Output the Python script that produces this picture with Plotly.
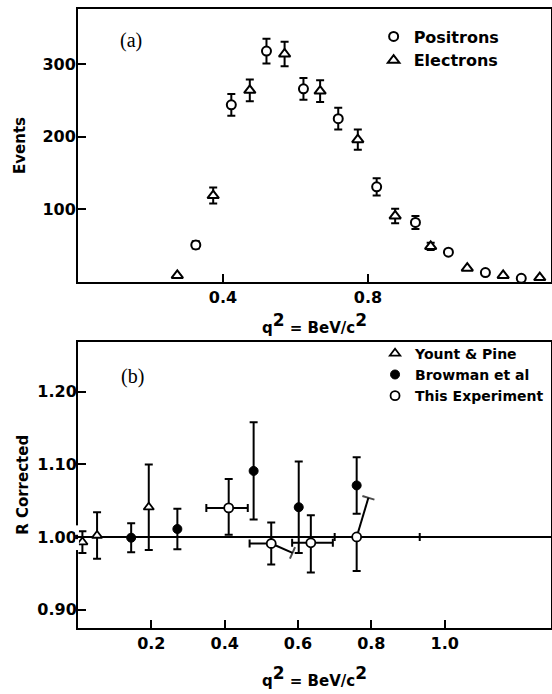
import plotly.graph_objects as go

# ---------------- Panel (a): event counts vs q^2 ----------------
pos_q2 = [0.325, 0.423, 0.520, 0.622, 0.718, 0.824, 0.931, 1.022, 1.124, 1.223]
pos_events = [51, 244, 318, 266, 225, 131, 82, 41, 13, 5]
pos_err = [5, 15, 17, 15, 15, 12, 9, 0, 0, 0]

ele_q2 = [0.274, 0.373, 0.474, 0.570, 0.668, 0.772, 0.875, 0.973, 1.074, 1.173, 1.274]
ele_events = [9, 119, 264, 314, 263, 196, 91, 49, 19, 9, 6]
ele_err = [0, 11, 15, 17, 15, 14, 10, 5, 0, 0, 0]

a_xticks = [0.4, 0.8]
a_xticklabels = ["0.4", "0.8"]
a_yticks = [100, 200, 300]
a_yticklabels = ["100", "200", "300"]

# ---------------- Panel (b): R corrected vs q^2 ----------------
yp_q2 = [0.012, 0.052, 0.193]
yp_r = [0.993, 1.002, 1.041]
yp_err = [0.015, 0.032, 0.059]

br_q2 = [0.145, 0.271, 0.479, 0.602, 0.760]
br_r = [0.999, 1.011, 1.091, 1.041, 1.071]
br_err = [0.020, 0.028, 0.067, 0.063, 0.039]

te_q2 = [0.411, 0.527, 0.635, 0.760]
te_r = [1.040, 0.991, 0.992, 1.000]
te_err_up = [0.040, 0.029, 0.038, 0.0]
te_err_dn = [0.037, 0.029, 0.041, 0.047]
te_xerr_lo = [0.061, 0.059, 0.051, 0.060]
te_xerr_hi = [0.052, 0.0, 0.060, 0.172]

# bent (slanted) whiskers drawn in the original figure
bend_from_q2 = [0.527, 0.760]
bend_from_r = [0.991, 1.000]
bend_to_q2 = [0.585, 0.792]
bend_to_r = [0.978, 1.054]
bend_cap_angle = [24, 17]
bend_cap_symbol = ["line-ns", "line-ew"]

b_xticks = [0.2, 0.4, 0.6, 0.8, 1.0]
b_xticklabels = ["0.2", "0.4", "0.6", "0.8", "1.0"]
b_yticks = [0.90, 1.00, 1.10, 1.20]
b_yticklabels = ["0.90", "1.00", "1.10", "1.20"]
reference_r = 1.0

FONT = "DejaVu Sans"
BLACK = "black"

fig = go.Figure()

eb = dict(thickness=2, width=4, color=BLACK)

# Panel (a) traces
fig.add_trace(go.Scatter(
    x=pos_q2, y=pos_events, mode="markers", name="Positrons",
    error_y=dict(type="data", array=pos_err, visible=True, **eb),
    marker=dict(symbol="circle", size=9, color="white", line=dict(color=BLACK, width=2)),
    xaxis="x", yaxis="y", legend="legend",
))
fig.add_trace(go.Scatter(
    x=ele_q2, y=ele_events, mode="markers", name="Electrons",
    error_y=dict(type="data", array=ele_err, visible=True, **eb),
    marker=dict(symbol="triangle-up", size=10, color="white", line=dict(color=BLACK, width=2)),
    xaxis="x", yaxis="y", legend="legend",
))

# Panel (b) bent whiskers
for i in range(len(bend_from_q2)):
    fig.add_trace(go.Scatter(
        x=[bend_from_q2[i], bend_to_q2[i]], y=[bend_from_r[i], bend_to_r[i]],
        mode="lines+markers", line=dict(color=BLACK, width=2),
        marker=dict(symbol=["circle", bend_cap_symbol[i] + "-open"], size=[0, 9],
                    angle=bend_cap_angle[i], color=BLACK, line=dict(color=BLACK, width=2)),
        showlegend=False, hoverinfo="skip", xaxis="x2", yaxis="y2",
    ))

fig.add_trace(go.Scatter(
    x=yp_q2, y=yp_r, mode="markers", name="Yount &amp; Pine",
    error_y=dict(type="data", array=yp_err, visible=True, **eb),
    marker=dict(symbol="triangle-up", size=9, color="white", line=dict(color=BLACK, width=1.8)),
    xaxis="x2", yaxis="y2", legend="legend2",
))
fig.add_trace(go.Scatter(
    x=br_q2, y=br_r, mode="markers", name="Browman et al",
    error_y=dict(type="data", array=br_err, visible=True, **eb),
    marker=dict(symbol="circle", size=9, color=BLACK, line=dict(color=BLACK, width=1)),
    xaxis="x2", yaxis="y2", legend="legend2",
))
fig.add_trace(go.Scatter(
    x=te_q2, y=te_r, mode="markers", name="This Experiment",
    error_y=dict(type="data", symmetric=False, array=te_err_up, arrayminus=te_err_dn,
                 visible=True, **eb),
    error_x=dict(type="data", symmetric=False, array=te_xerr_hi, arrayminus=te_xerr_lo,
                 visible=True, **eb),
    marker=dict(symbol="circle", size=9, color="white", line=dict(color=BLACK, width=1.8)),
    xaxis="x2", yaxis="y2", legend="legend2",
))

tickfont = dict(family=FONT, size=16, color=BLACK, weight="bold")
titlefont = dict(family=FONT, size=15, color=BLACK, weight="bold")
axcommon = dict(showline=True, linewidth=2, linecolor=BLACK, mirror=True,
                ticks="inside", ticklen=8, tickwidth=2, tickcolor=BLACK,
                showgrid=False, zeroline=False, tickfont=tickfont, automargin=False)

xtitle = "q<sup><span style='font-size:17px'>2</span></sup> = BeV/c<sup><span style='font-size:17px'>2</span></sup>"

fig.update_layout(
    template="none",
    width=552, height=694,
    margin=dict(l=78, r=1, t=9, b=66, autoexpand=False),
    paper_bgcolor="white", plot_bgcolor="white",
    xaxis=dict(domain=[0, 1], range=[0, 1.305], anchor="y",
               tickvals=a_xticks, ticktext=a_xticklabels,
               title=dict(text=xtitle, font=titlefont, standoff=16), **axcommon),
    yaxis=dict(domain=[0.559, 1], range=[0, 376], anchor="x",
               tickvals=a_yticks, ticktext=a_yticklabels, ticklabelstandoff=-3,
               title=dict(text="Events", font=titlefont, standoff=13), **axcommon),
    xaxis2=dict(domain=[0, 1], range=[0, 1.29], anchor="y2",
                tickvals=b_xticks, ticktext=b_xticklabels,
                title=dict(text=xtitle, font=titlefont, standoff=23), **axcommon),
    yaxis2=dict(domain=[0, 0.4625], range=[0.8746, 1.269], anchor="x2",
                tickvals=b_yticks, ticktext=b_yticklabels, ticklabelstandoff=-4,
                title=dict(text="R Corrected", font=titlefont, standoff=5), **axcommon),
    legend=dict(x=0.625, y=0.983, xanchor="left", yanchor="top",
                font=dict(family=FONT, size=16, color=BLACK, weight="bold"),
                bgcolor="rgba(0,0,0,0)", borderwidth=0),
    legend2=dict(x=0.628, y=0.469, xanchor="left", yanchor="top",
                 font=dict(family=FONT, size=14, color=BLACK, weight="bold"),
                 bgcolor="rgba(0,0,0,0)", borderwidth=0),
    shapes=[
        dict(type="line", xref="x2 domain", yref="y2", x0=0, x1=1,
             y0=reference_r, y1=reference_r, line=dict(color=BLACK, width=2), layer="below"),
        dict(type="rect", xref="paper", yref="y2", x0=-0.006, x1=0.002,
             y0=reference_r - 0.018, y1=reference_r - 0.003,
             fillcolor="white", line=dict(width=0), layer="above"),
        dict(type="rect", xref="paper", yref="y2", x0=-0.006, x1=0.002,
             y0=reference_r + 0.003, y1=reference_r + 0.016,
             fillcolor="white", line=dict(width=0), layer="above"),
    ],
    annotations=[
        dict(text="(a)", xref="x domain", yref="y domain", x=0.112, y=0.886,
             xanchor="center", yanchor="middle", showarrow=False,
             font=dict(family="Liberation Serif", size=20, color=BLACK)),
        dict(text="(b)", xref="x2 domain", yref="y2 domain", x=0.1156, y=0.878,
             xanchor="center", yanchor="middle", showarrow=False,
             font=dict(family="Liberation Serif", size=20, color=BLACK)),
    ],
    showlegend=True,
)

fig.write_html("out.html", config={"displayModeBar": False},
               post_script="document.body.style.margin='0';")
